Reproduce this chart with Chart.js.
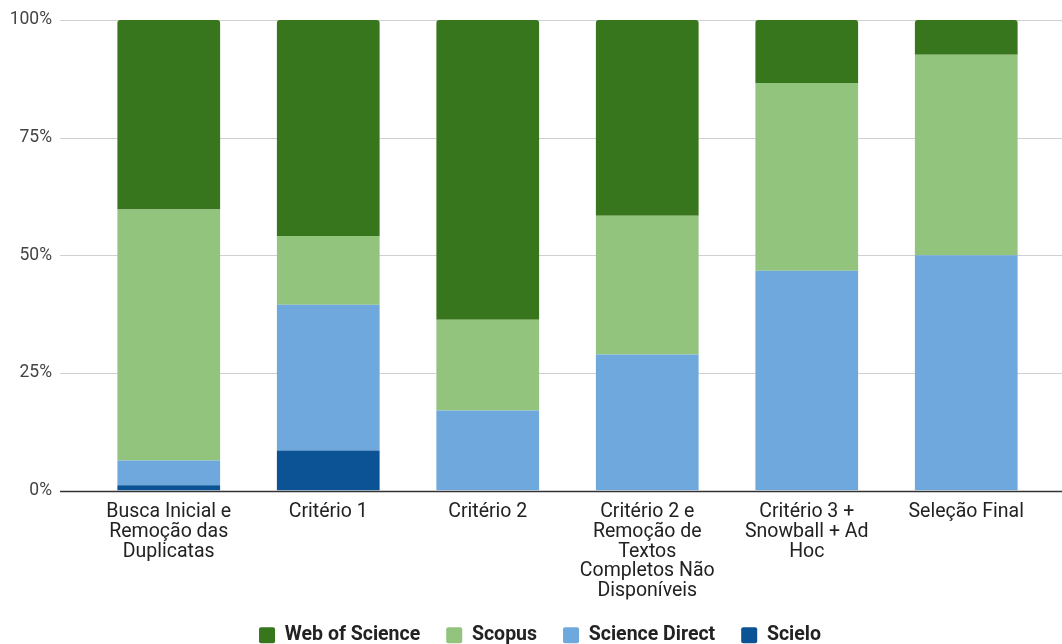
<!DOCTYPE html>
<html>
<head>
<meta charset="utf-8">
<script src="https://cdn.jsdelivr.net/npm/chart.js@4.4.1/dist/chart.umd.min.js"></script>
<style>
  html, body { margin: 0; padding: 0; background: #fff; }
  #wrap { width: 1062px; height: 644px; }
</style>
</head>
<body>
<div id="wrap"><canvas id="stackChart"></canvas></div>
<script>
// categories (etapas da revisão)
const etapas = [
  ['Busca Inicial e', 'Remoção das', 'Duplicatas'],
  'Critério 1',
  'Critério 2',
  ['Critério 2 e', 'Remoção de', 'Textos', 'Completos Não', 'Disponíveis'],
  ['Critério 3 +', 'Snowball + Ad', 'Hoc'],
  'Seleção Final'
];

// share of each base (%)
const scielo        = [1.1, 8.5, 0, 0, 0, 0];
const scienceDirect = [5.3, 31.0, 17.0, 28.9, 46.7, 50.0];
const scopus        = [53.3, 14.6, 19.3, 29.5, 39.9, 42.6];
const webOfScience  = [40.3, 45.9, 63.7, 41.6, 13.4, 7.4];

const yTicks = [0, 25, 50, 75, 100];

// gridlines run from x=60 to the right edge, wider than the bar area
const gridPlugin = {
  id: 'wideGrid',
  afterLayout(chart) {
    // legend sits a bit right of centre in the original
    chart.legend.left += 17;
    chart.legend.right += 17;
  },
  beforeDatasetsDraw(chart) {
    const ctx = chart.ctx;
    const y = chart.scales.y;
    ctx.save();
    yTicks.forEach(t => {
      const py = Math.round(y.getPixelForValue(t)) + 0.5;
      ctx.beginPath();
      ctx.moveTo(60, py);
      ctx.lineTo(chart.width, py);
      ctx.lineWidth = t === 0 ? 1.5 : 1.2;
      ctx.strokeStyle = t === 0 ? '#333' : '#d0d0d0';
      ctx.stroke();
    });
    ctx.restore();
  }
};

// keep scales from pushing the plot area around
function noPad(scale) {
  scale.paddingTop = 0;
  scale.paddingBottom = 0;
  scale.paddingLeft = 0;
  scale.paddingRight = 0;
}

const ctx = document.getElementById('stackChart').getContext('2d');
const stackChart = new Chart(ctx, {
  type: 'bar',
  data: {
    labels: etapas,
    datasets: [
      { label: 'Scielo', data: scielo, backgroundColor: '#0b5394' },
      { label: 'Science Direct', data: scienceDirect, backgroundColor: '#6fa8dc' },
      { label: 'Scopus', data: scopus, backgroundColor: '#93c47d' },
      { label: 'Web of Science', data: webOfScience, backgroundColor: '#38761d',
        borderRadius: { topLeft: 3, topRight: 3 }, borderSkipped: 'bottom' }
    ]
  },
  plugins: [gridPlugin],
  options: {
    responsive: true,
    maintainAspectRatio: false,
    animation: false,
    layout: { padding: { top: 20, right: 16, bottom: -11, left: 0 } },
    datasets: { bar: { categoryPercentage: 0.644, barPercentage: 1 } },
    scales: {
      x: {
        stacked: true,
        grid: { display: false, drawTicks: false },
        border: { display: false },
        ticks: {
          color: '#222',
          padding: 12,
          maxRotation: 0,
          autoSkip: false,
          font: { family: 'Roboto', size: 19.5, lineHeight: 1.01 }
        },
        afterFit(scale) { scale.height = 109; noPad(scale); }
      },
      y: {
        stacked: true,
        min: 0,
        max: 100,
        grid: { display: false, drawTicks: false },
        border: { display: false },
        afterBuildTicks(scale) { scale.ticks = yTicks.map(v => ({ value: v })); },
        ticks: {
          color: '#444',
          padding: 37,
          font: { family: 'Roboto', size: 17.5 },
          callback: v => v + '%'
        },
        afterFit(scale) { scale.width = 89; noPad(scale); }
      }
    },
    plugins: {
      tooltip: { enabled: false },
      legend: {
        position: 'bottom',
        reverse: true,
        labels: {
          color: '#222',
          boxWidth: 16,
          boxHeight: 16,
          useBorderRadius: true,
          borderRadius: 2,
          padding: 26,
          font: { family: 'Roboto', size: 19.5, weight: 'bold' }
        }
      }
    }
  }
});
</script>
</body>
</html>
